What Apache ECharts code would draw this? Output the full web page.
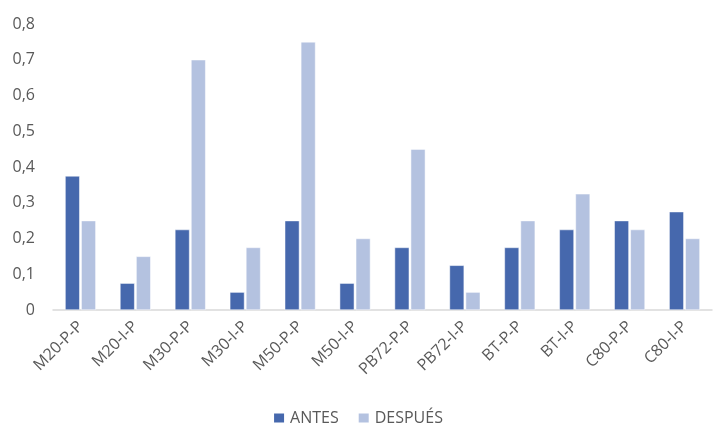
<!DOCTYPE html>
<html>
<head>
<meta charset="utf-8">
<script src="https://cdn.jsdelivr.net/npm/echarts@6/dist/echarts.min.js"></script>
<style>
  html, body { margin: 0; padding: 0; background: #fff; }
  #chart { width: 715px; height: 425px; }
</style>
</head>
<body>
<div id="chart"></div>
<script>
const categories = ['M20-P-P', 'M20-I-P', 'M30-P-P', 'M30-I-P', 'M50-P-P', 'M50-I-P',
  'PB72-P-P', 'PB72-I-P', 'BT-P-P', 'BT-I-P', 'C80-P-P', 'C80-I-P'];
const antes = [0.375, 0.075, 0.225, 0.05, 0.25, 0.075, 0.175, 0.125, 0.175, 0.225, 0.25, 0.275];
const despues = [0.25, 0.15, 0.7, 0.175, 0.75, 0.2, 0.45, 0.05, 0.25, 0.325, 0.225, 0.2];

const fontFamily = '"Open Sans", "Noto Sans", sans-serif';
const textColor = '#595959';

const chart = echarts.init(document.getElementById('chart'));
chart.setOption({
  animation: false,
  grid: { left: 53, right: 3, top: 24, bottom: 115 },
  legend: {
    top: 410,
    padding: 0,
    itemWidth: 12,
    itemHeight: 11,
    itemGap: 18,
    icon: 'rect',
    textStyle: { color: textColor, fontSize: 16, fontFamily }
  },
  xAxis: {
    type: 'category',
    data: categories,
    axisLine: { lineStyle: { color: '#d9d9d9', width: 1.5 } },
    axisTick: { show: false },
    axisLabel: {
      rotate: 45,
      interval: 0,
      margin: 14,
      color: textColor,
      fontSize: 16,
      fontFamily
    }
  },
  yAxis: {
    type: 'value',
    min: 0,
    max: 0.8,
    interval: 0.1,
    splitLine: { show: false },
    axisLine: { show: false },
    axisTick: { show: false },
    axisLabel: {
      margin: 18,
      color: textColor,
      fontSize: 16,
      fontFamily,
      formatter: (v) => (v === 0 ? '0' : v.toFixed(1).replace('.', ','))
    }
  },
  series: [
    {
      name: 'ANTES',
      type: 'bar',
      data: antes,
      barGap: '10%',
      barCategoryGap: '44%',
      itemStyle: { color: '#4668ad', borderColor: '#ffffff', borderWidth: 0.5 }
    },
    {
      name: 'DESPUÉS',
      type: 'bar',
      data: despues,
      itemStyle: { color: '#b4c2e0', borderColor: '#ffffff', borderWidth: 0.5 }
    }
  ]
});
</script>
</body>
</html>
